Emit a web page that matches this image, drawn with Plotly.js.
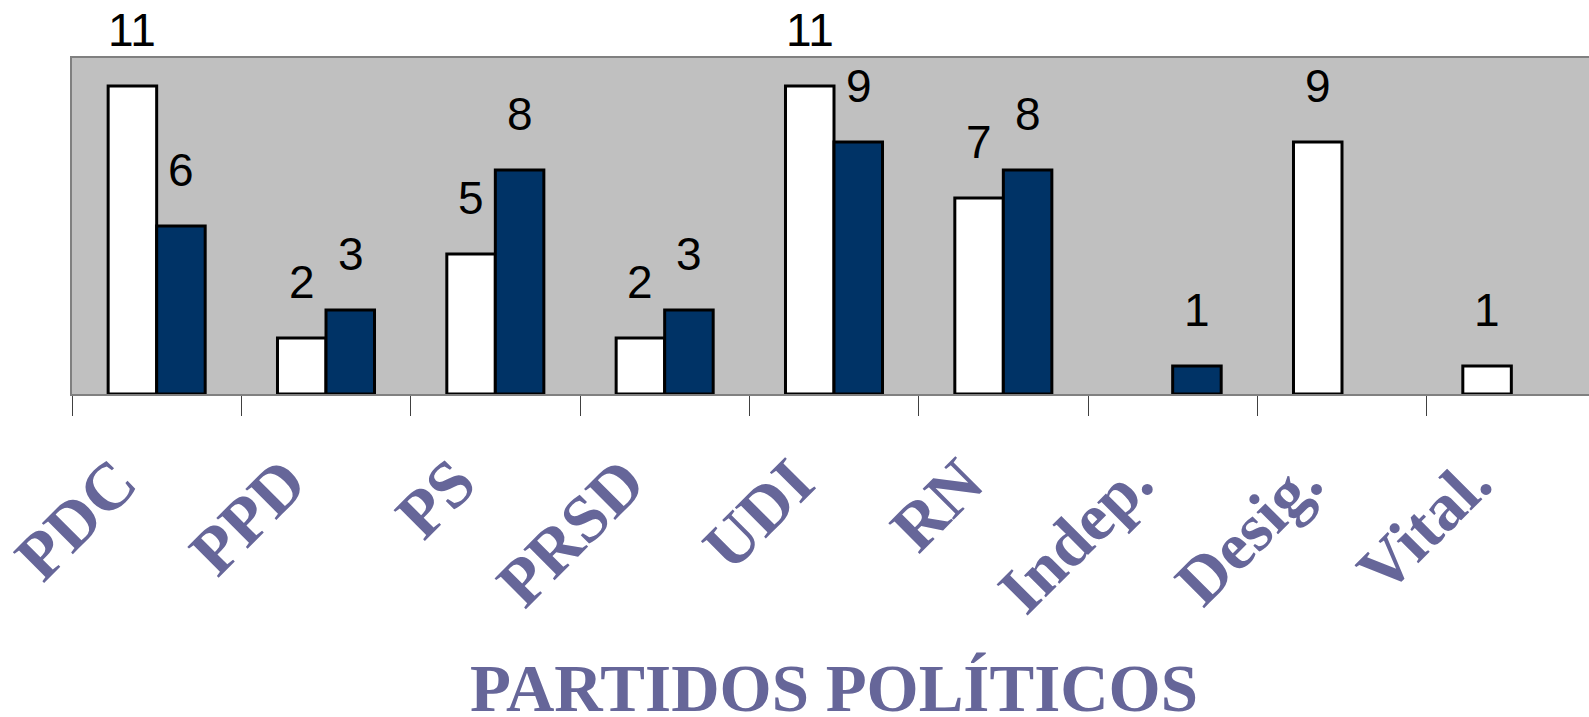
<!DOCTYPE html>
<html>
<head>
<meta charset="utf-8">
<script src="https://cdn.plot.ly/plotly-3.0.1.min.js"></script>
<style>
html, body { margin: 0; padding: 0; overflow: hidden; background: #ffffff; }
#chart { width: 1596px; height: 725px; }
</style>
</head>
<body>
<div id="chart"></div>
<script>
var categories = ["PDC", "PPD", "PS", "PRSD", "UDI", "RN", "Indep.", "Desig.", "Vital."];
var seriesWhite = [11, 2, 5, 2, 11, 7, null, 9, 1];
var seriesNavy  = [6, 3, 8, 3, 9, 8, 1, null, null];
var axisTitle = "PARTIDOS POLÍTICOS";

var barLine = {color: "#000000", width: 3};

var traces = [
  {type: "bar", name: "Serie 1", x: categories, y: seriesWhite,
   marker: {color: "#FFFFFF", line: barLine}, hoverinfo: "x+y"},
  {type: "bar", name: "Serie 2", x: categories, y: seriesNavy,
   marker: {color: "#003366", line: barLine}, hoverinfo: "x+y"}
];

var annotations = [];
function addLabels(vals, shift) {
  for (var i = 0; i < categories.length; i++) {
    if (vals[i] === null) continue;
    annotations.push({
      x: categories[i], y: vals[i], xref: "x", yref: "y",
      text: String(vals[i]), showarrow: false,
      xanchor: "center", yanchor: "middle",
      xshift: shift, yshift: 56,
      font: {family: "Liberation Sans, Arial, sans-serif", size: 46, color: "#000000"}
    });
  }
}
addLabels(seriesWhite, -24.5);
addLabels(seriesNavy, 24.5);

var layout = {
  width: 1596, height: 725,
  margin: {l: 72, r: 0, t: 58, b: 331},
  paper_bgcolor: "#FFFFFF",
  plot_bgcolor: "#C0C0C0",
  showlegend: false,
  barmode: "group",
  bargap: 0.427,
  bargroupgap: 0,
  xaxis: {
    type: "category",
    showline: true, mirror: true, linecolor: "#808080", linewidth: 2,
    ticks: "outside", tickson: "boundaries", ticklen: 20, tickwidth: 1, tickcolor: "#404040",
    tickangle: -45,
    ticklabelshift: -40,
    ticklabelstandoff: 20,
    tickfont: {family: "Liberation Serif, Times New Roman, serif", size: 67, color: "#666699", weight: "bold"},
    showgrid: false, zeroline: false,
    title: {text: axisTitle, standoff: 80,
            font: {family: "Liberation Serif, Times New Roman, serif", size: 67, color: "#666699", weight: "bold"}}
  },
  yaxis: {
    range: [0, 12],
    showline: true, mirror: true, linecolor: "#808080", linewidth: 2,
    showticklabels: false, ticks: "", showgrid: false, zeroline: false
  },
  annotations: annotations
};

Plotly.newPlot("chart", traces, layout, {displayModeBar: false, staticPlot: true});
</script>
</body>
</html>
